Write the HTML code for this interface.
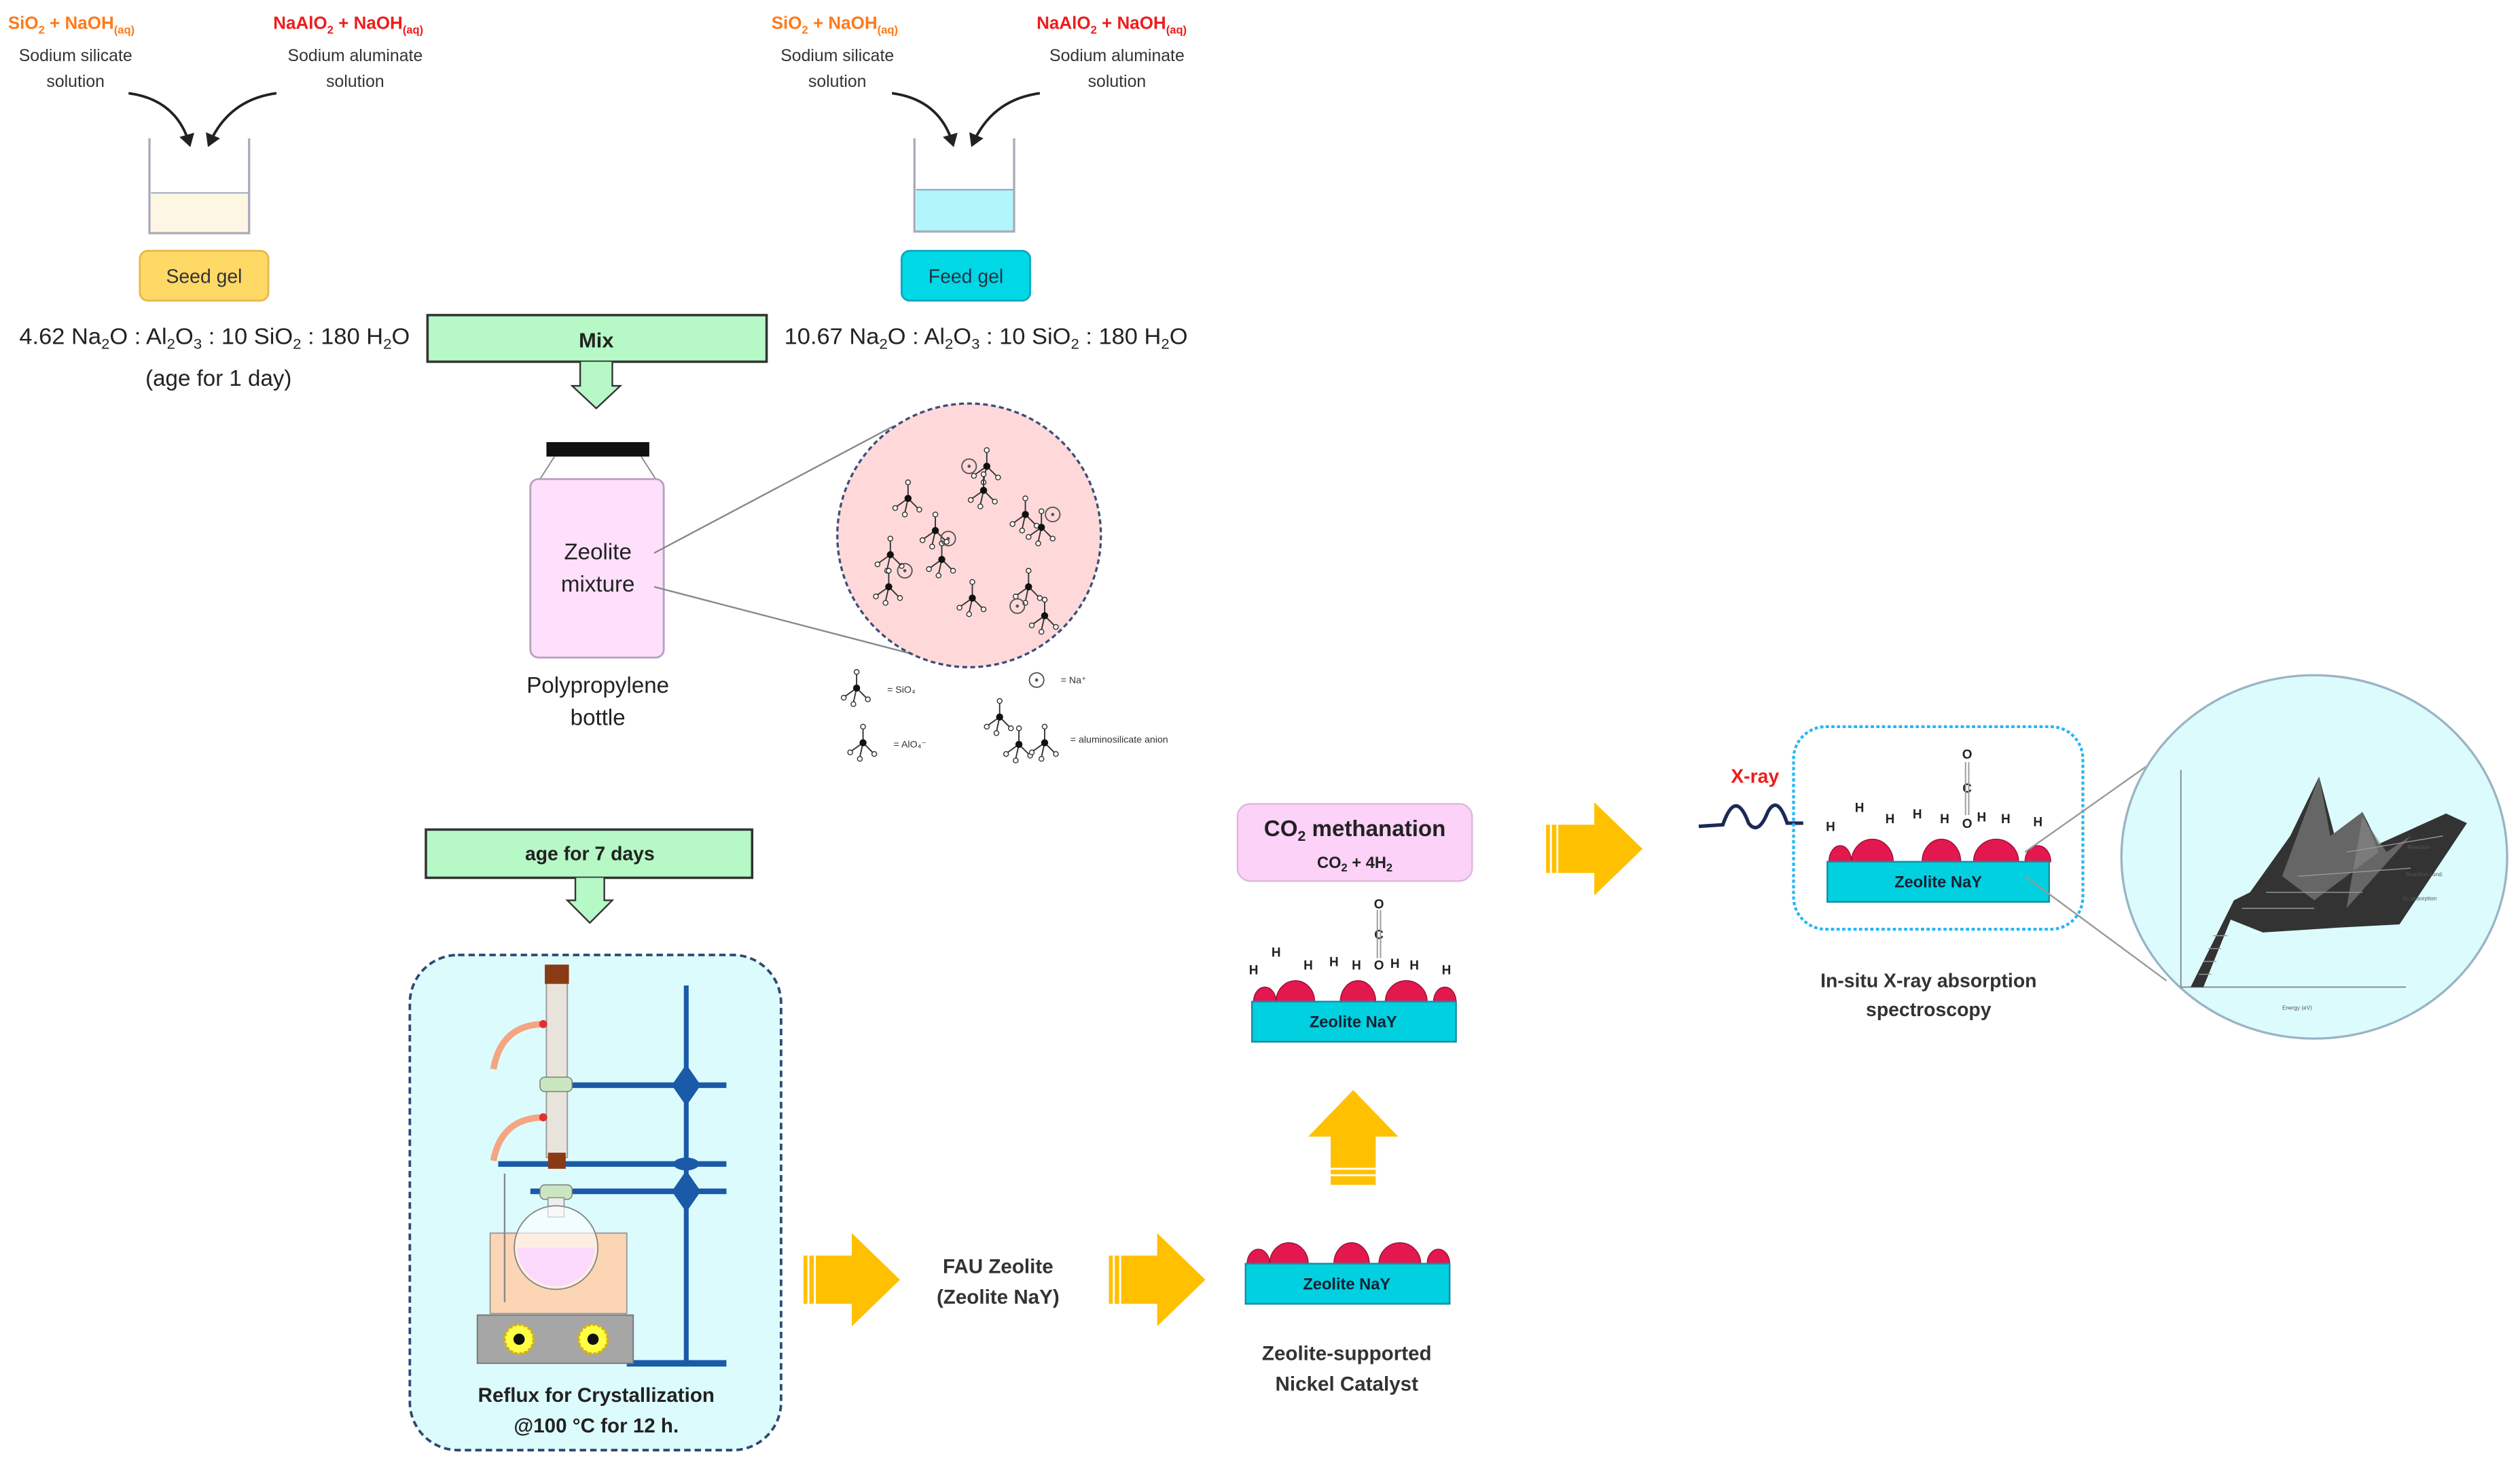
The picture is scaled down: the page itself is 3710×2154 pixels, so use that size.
<!DOCTYPE html>
<html><head><meta charset="utf-8"><style>
html,body{margin:0;padding:0;background:#fff;}
svg{display:block;}
text{font-family:"Liberation Sans",sans-serif;}
</style></head><body>
<svg width="3710" height="2154" viewBox="0 0 1568 910" preserveAspectRatio="none" xmlns="http://www.w3.org/2000/svg">
<defs>
<marker id="ah" markerWidth="6" markerHeight="6" refX="4" refY="3" orient="auto"><path d="M0,0 L5,3 L0,6 z" fill="#222"/></marker>
<g id="tet"><line x1="0" y1="0" x2="0" y2="-9" stroke="#333" stroke-width="0.8"/><line x1="0" y1="0" x2="-7" y2="5" stroke="#333" stroke-width="0.8"/><line x1="0" y1="0" x2="6" y2="6" stroke="#333" stroke-width="0.8"/><line x1="0" y1="0" x2="-2" y2="9" stroke="#333" stroke-width="0.8"/><circle r="2.2" fill="#111"/><circle cy="-10" r="1.5" fill="#fff" stroke="#333" stroke-width="0.6"/><circle cx="-8" cy="6" r="1.5" fill="#fff" stroke="#333" stroke-width="0.6"/><circle cx="7" cy="7" r="1.5" fill="#fff" stroke="#333" stroke-width="0.6"/><circle cx="-2" cy="10" r="1.5" fill="#fff" stroke="#333" stroke-width="0.6"/></g>
<g id="na"><circle r="4.5" fill="none" stroke="#555" stroke-width="0.8"/><circle r="1" fill="#555"/></g>
<g id="yarrow"><path d="M0,14 L30,14 L30,0 L60,29 L30,58 L30,44 L0,44 z" fill="#ffc000"/><line x1="3" y1="14" x2="3" y2="44" stroke="#fff" stroke-width="1.2"/><line x1="7" y1="14" x2="7" y2="44" stroke="#fff" stroke-width="1.2"/></g>
</defs>

<text x="5" y="18" font-size="11" font-weight="bold" fill="#ff7a1a">SiO<tspan font-size="7" dy="3">2</tspan><tspan dy="-3"> + NaOH</tspan><tspan font-size="7" dy="3">(aq)</tspan></text>
<text x="170" y="18" font-size="11" font-weight="bold" fill="#ee1c1c">NaAlO<tspan font-size="7" dy="3">2</tspan><tspan dy="-3"> + NaOH</tspan><tspan font-size="7" dy="3">(aq)</tspan></text>
<text x="47" y="38" font-size="10.5" fill="#333" text-anchor="middle">Sodium silicate</text>
<text x="47" y="54" font-size="10.5" fill="#333" text-anchor="middle">solution</text>
<text x="221" y="38" font-size="10.5" fill="#333" text-anchor="middle">Sodium aluminate</text>
<text x="221" y="54" font-size="10.5" fill="#333" text-anchor="middle">solution</text>
<path d="M80,58 Q110,62 118,90" fill="none" stroke="#222" stroke-width="1.6" marker-end="url(#ah)"/>
<path d="M172,58 Q142,62 130,90" fill="none" stroke="#222" stroke-width="1.6" marker-end="url(#ah)"/>
<rect x="94" y="120" width="61" height="25" fill="#fdf6e2"/>
<line x1="94" y1="120" x2="155" y2="120" stroke="#9ab" stroke-width="0.8"/>
<path d="M93,86 L93,145 L155,145 L155,86" fill="none" stroke="#aab" stroke-width="1.4"/>
<rect x="87" y="156" width="80" height="31" rx="5" fill="#ffd966" stroke="#e8b84a" stroke-width="1.2"/>
<text x="127" y="176" font-size="12" fill="#333" text-anchor="middle">Seed gel</text>
<text x="12" y="214" font-size="14" fill="#222" textLength="243" lengthAdjust="spacingAndGlyphs">4.62 Na<tspan font-size="9" dy="3">2</tspan><tspan dy="-3">O : Al</tspan><tspan font-size="9" dy="3">2</tspan><tspan dy="-3">O</tspan><tspan font-size="9" dy="3">3</tspan><tspan dy="-3"> : 10 SiO</tspan><tspan font-size="9" dy="3">2</tspan><tspan dy="-3"> : 180 H</tspan><tspan font-size="9" dy="3">2</tspan><tspan dy="-3">O</tspan></text>
<text x="136" y="240" font-size="14" fill="#222" text-anchor="middle">(age for 1 day)</text>

<text x="480" y="18" font-size="11" font-weight="bold" fill="#ff7a1a">SiO<tspan font-size="7" dy="3">2</tspan><tspan dy="-3"> + NaOH</tspan><tspan font-size="7" dy="3">(aq)</tspan></text>
<text x="645" y="18" font-size="11" font-weight="bold" fill="#ee1c1c">NaAlO<tspan font-size="7" dy="3">2</tspan><tspan dy="-3"> + NaOH</tspan><tspan font-size="7" dy="3">(aq)</tspan></text>
<text x="521" y="38" font-size="10.5" fill="#333" text-anchor="middle">Sodium silicate</text>
<text x="521" y="54" font-size="10.5" fill="#333" text-anchor="middle">solution</text>
<text x="695" y="38" font-size="10.5" fill="#333" text-anchor="middle">Sodium aluminate</text>
<text x="695" y="54" font-size="10.5" fill="#333" text-anchor="middle">solution</text>
<path d="M555,58 Q585,62 593,90" fill="none" stroke="#222" stroke-width="1.6" marker-end="url(#ah)"/>
<path d="M647,58 Q617,62 605,90" fill="none" stroke="#222" stroke-width="1.6" marker-end="url(#ah)"/>
<rect x="570" y="118" width="61" height="26" fill="#b0f6fa"/>
<line x1="570" y1="118" x2="631" y2="118" stroke="#89b" stroke-width="0.8"/>
<path d="M569,86 L569,144 L631,144 L631,86" fill="none" stroke="#aab" stroke-width="1.4"/>
<rect x="561" y="156" width="80" height="31" rx="5" fill="#00d8e6" stroke="#10a8c0" stroke-width="1.2"/>
<text x="601" y="176" font-size="12" fill="#234" text-anchor="middle">Feed gel</text>
<text x="488" y="214" font-size="14" fill="#222" textLength="251" lengthAdjust="spacingAndGlyphs">10.67 Na<tspan font-size="9" dy="3">2</tspan><tspan dy="-3">O : Al</tspan><tspan font-size="9" dy="3">2</tspan><tspan dy="-3">O</tspan><tspan font-size="9" dy="3">3</tspan><tspan dy="-3"> : 10 SiO</tspan><tspan font-size="9" dy="3">2</tspan><tspan dy="-3"> : 180 H</tspan><tspan font-size="9" dy="3">2</tspan><tspan dy="-3">O</tspan></text>

<rect x="266" y="196" width="211" height="29" fill="#b6f8c6" stroke="#333" stroke-width="1.5"/>
<text x="371" y="216" font-size="13" font-weight="bold" fill="#222" text-anchor="middle">Mix</text>
<path d="M361,225 L361,240 L356,240 L371,254 L386,240 L381,240 L381,225" fill="#b6f8c6" stroke="#333" stroke-width="1"/>

<rect x="340" y="275" width="64" height="9" fill="#111"/>
<path d="M345,284 L336,298 M399,284 L408,298" stroke="#888" stroke-width="0.8"/>
<rect x="330" y="298" width="83" height="111" rx="5" fill="#ffe0fc" stroke="#b9a0c0" stroke-width="1.2"/>
<text x="372" y="348" font-size="14" fill="#222" text-anchor="middle">Zeolite</text>
<text x="372" y="368" font-size="14" fill="#222" text-anchor="middle">mixture</text>
<text x="372" y="431" font-size="14" fill="#222" text-anchor="middle">Polypropylene</text>
<text x="372" y="451" font-size="14" fill="#222" text-anchor="middle">bottle</text>
<line x1="407" y1="344" x2="556" y2="265" stroke="#888" stroke-width="1"/>
<line x1="407" y1="365" x2="580" y2="410" stroke="#888" stroke-width="1"/>
<circle cx="603" cy="333" r="82" fill="#ffd9d9" stroke="#3b4f7a" stroke-width="1.4" stroke-dasharray="3,2"/>
<use href="#tet" x="614" y="290"/><use href="#tet" x="612" y="305"/><use href="#tet" x="582" y="330"/><use href="#tet" x="638" y="320"/><use href="#tet" x="648" y="328"/><use href="#tet" x="554" y="345"/><use href="#tet" x="586" y="348"/><use href="#tet" x="553" y="365"/><use href="#tet" x="640" y="365"/><use href="#tet" x="650" y="383"/><use href="#tet" x="605" y="372"/><use href="#tet" x="565" y="310"/>
<use href="#na" x="603" y="290"/><use href="#na" x="655" y="320"/><use href="#na" x="590" y="335"/><use href="#na" x="563" y="355"/><use href="#na" x="633" y="377"/>
<use href="#tet" x="533" y="428"/><text x="552" y="431" font-size="6" fill="#333">= SiO₄</text>
<use href="#tet" x="537" y="462"/><text x="556" y="465" font-size="6" fill="#333">= AlO₄⁻</text>
<use href="#na" x="645" y="423"/><text x="660" y="425" font-size="6" fill="#333">= Na⁺</text>
<use href="#tet" x="622" y="446"/><use href="#tet" x="634" y="463"/><use href="#tet" x="650" y="462"/>
<text x="666" y="462" font-size="6" fill="#333">= aluminosilicate anion</text>

<rect x="265" y="516" width="203" height="30" fill="#b6f8c6" stroke="#333" stroke-width="1.5"/>
<text x="367" y="535" font-size="12" font-weight="bold" fill="#222" text-anchor="middle">age for 7 days</text>
<path d="M358,546 L358,560 L353,560 L367,574 L381,560 L376,560 L376,546" fill="#b6f8c6" stroke="#333" stroke-width="1"/>

<rect x="255" y="594" width="231" height="308" rx="30" fill="#dcfbfd" stroke="#2f4a72" stroke-width="1.6" stroke-dasharray="4,2.5"/>
<line x1="427" y1="613" x2="427" y2="848" stroke="#1a5aa8" stroke-width="3"/>
<line x1="390" y1="848" x2="452" y2="848" stroke="#1a5aa8" stroke-width="4"/>
<line x1="340" y1="675" x2="452" y2="675" stroke="#1a5aa8" stroke-width="3.5"/>
<line x1="310" y1="724" x2="452" y2="724" stroke="#1a5aa8" stroke-width="3.5"/>
<line x1="330" y1="741" x2="452" y2="741" stroke="#1a5aa8" stroke-width="3.5"/>
<path d="M427,662 L436,675 L427,688 L418,675 z" fill="#1a5aa8"/>
<path d="M427,728 L436,741 L427,754 L418,741 z" fill="#1a5aa8"/>
<ellipse cx="427" cy="724" rx="8" ry="4" fill="#1a5aa8"/>
<rect x="340" y="604" width="13" height="116" fill="#e8e4dc" stroke="#999" stroke-width="0.8"/>
<rect x="339" y="600" width="15" height="12" fill="#8b3a16"/>
<rect x="341" y="717" width="11" height="10" fill="#8b3a16"/>
<rect x="336" y="670" width="20" height="9" rx="3" fill="#c9e6c0" stroke="#777" stroke-width="0.6"/>
<rect x="336" y="737" width="20" height="9" rx="3" fill="#c9e6c0" stroke="#777" stroke-width="0.6"/>
<path d="M339,637 Q312,637 307,665" fill="none" stroke="#f4a582" stroke-width="4"/>
<path d="M339,695 Q312,695 307,722" fill="none" stroke="#f4a582" stroke-width="4"/>
<circle cx="338" cy="637" r="2.5" fill="#e03030"/><circle cx="338" cy="695" r="2.5" fill="#e03030"/>
<rect x="305" y="767" width="85" height="50" fill="#fcd5b4" stroke="#999" stroke-width="0.8"/>
<rect x="341" y="745" width="10" height="12" fill="#eee" stroke="#888" stroke-width="0.6"/>
<circle cx="346" cy="776" r="26" fill="#fff" fill-opacity="0.6" stroke="#888" stroke-width="0.8"/>
<path d="M322,776 A24,24 0 0 0 370,776 Z" fill="#fbd9fc"/>
<line x1="314" y1="730" x2="314" y2="810" stroke="#888" stroke-width="1"/>
<rect x="297" y="818" width="97" height="30" fill="#a6a6a6" stroke="#777" stroke-width="0.8"/>
<circle cx="323" cy="833" r="9" fill="#ffff44" stroke="#d9b000" stroke-width="1.5" stroke-dasharray="2,1"/><circle cx="323" cy="833" r="3.5" fill="#111"/>
<circle cx="369" cy="833" r="9" fill="#ffff44" stroke="#d9b000" stroke-width="1.5" stroke-dasharray="2,1"/><circle cx="369" cy="833" r="3.5" fill="#111"/>
<text x="371" y="872" font-size="12.5" font-weight="bold" fill="#222" text-anchor="middle">Reflux for Crystallization</text>
<text x="371" y="891" font-size="12.5" font-weight="bold" fill="#222" text-anchor="middle">@100 °C for 12 h.</text>

<use href="#yarrow" x="500" y="767"/>
<text x="621" y="792" font-size="12.5" font-weight="bold" fill="#333" text-anchor="middle">FAU Zeolite</text>
<text x="621" y="811" font-size="12.5" font-weight="bold" fill="#333" text-anchor="middle">(Zeolite NaY)</text>
<use href="#yarrow" x="690" y="767"/>

<g fill="#e3184f" stroke="#9a1036" stroke-width="0.6">
<path d="M776,786 A7,9 0 0 1 790,786 z"/><path d="M790,786 A12,13 0 0 1 814,786 z"/><path d="M830,786 A11,13 0 0 1 852,786 z"/><path d="M858,786 A13,13 0 0 1 884,786 z"/><path d="M888,786 A7,9 0 0 1 902,786 z"/>
</g>
<rect x="775" y="786" width="127" height="25" fill="#00d0e0" stroke="#1a8aa0" stroke-width="1"/>
<text x="838" y="802" font-size="10" font-weight="bold" fill="#123" text-anchor="middle">Zeolite NaY</text>
<text x="838" y="846" font-size="12.5" font-weight="bold" fill="#333" text-anchor="middle">Zeolite-supported</text>
<text x="838" y="865" font-size="12.5" font-weight="bold" fill="#333" text-anchor="middle">Nickel Catalyst</text>

<path d="M828,737 L828,707 L814,707 L842,678 L870,707 L856,707 L856,737 z" fill="#ffc000"/>
<line x1="828" y1="731" x2="856" y2="731" stroke="#fff" stroke-width="1.2"/><line x1="828" y1="727" x2="856" y2="727" stroke="#fff" stroke-width="1.2"/>

<g fill="#e3184f" stroke="#9a1036" stroke-width="0.6">
<path d="M780,623 A7,9 0 0 1 794,623 z"/><path d="M794,623 A12,13 0 0 1 818,623 z"/><path d="M834,623 A11,13 0 0 1 856,623 z"/><path d="M862,623 A13,13 0 0 1 888,623 z"/><path d="M892,623 A7,9 0 0 1 906,623 z"/>
</g>
<rect x="779" y="623" width="127" height="25" fill="#00d0e0" stroke="#1a8aa0" stroke-width="1"/>
<text x="842" y="639" font-size="10" font-weight="bold" fill="#123" text-anchor="middle">Zeolite NaY</text>
<g font-size="8" font-weight="bold" fill="#222" text-anchor="middle">
<text x="780" y="606">H</text><text x="794" y="595">H</text><text x="814" y="603">H</text><text x="830" y="601">H</text><text x="844" y="603">H</text><text x="858" y="603">O</text><text x="868" y="602">H</text><text x="880" y="603">H</text><text x="900" y="606">H</text><text x="858" y="565">O</text><text x="858" y="584">C</text>
</g>
<line x1="857" y1="566" x2="857" y2="596" stroke="#999" stroke-width="0.8"/><line x1="859" y1="566" x2="859" y2="596" stroke="#999" stroke-width="0.8"/>

<rect x="770" y="500" width="146" height="48" rx="8" fill="#fcd2f8" stroke="#ddb6dd" stroke-width="1"/>
<text x="843" y="520" font-size="14" font-weight="bold" fill="#222" text-anchor="middle">CO<tspan font-size="9" dy="3">2</tspan><tspan dy="-3"> methanation</tspan></text>
<text x="843" y="540" font-size="10" font-weight="bold" fill="#222" text-anchor="middle">CO<tspan font-size="7" dy="2">2</tspan><tspan dy="-2"> + 4H</tspan><tspan font-size="7" dy="2">2</tspan></text>

<use href="#yarrow" x="962" y="499"/>

<text x="1092" y="487" font-size="12" font-weight="bold" fill="#ee1c1c" text-anchor="middle">X-ray</text>
<path d="M1057,514 L1072,513 Q1080,490 1088,512 Q1094,520 1100,505 Q1106,494 1112,512 L1122,512" fill="none" stroke="#1a2a55" stroke-width="2.2"/>
<rect x="1116" y="452" width="180" height="126" rx="20" fill="none" stroke="#29b6f6" stroke-width="1.8" stroke-dasharray="2,1.5"/>
<g fill="#e3184f" stroke="#9a1036" stroke-width="0.6">
<path d="M1138,536 A7,10 0 0 1 1152,536 z"/><path d="M1152,536 A13,14 0 0 1 1178,536 z"/><path d="M1196,536 A12,14 0 0 1 1220,536 z"/><path d="M1228,536 A14,14 0 0 1 1256,536 z"/><path d="M1260,536 A8,10 0 0 1 1276,536 z"/>
</g>
<rect x="1137" y="536" width="138" height="25" fill="#00d0e0" stroke="#1a8aa0" stroke-width="1"/>
<text x="1206" y="552" font-size="10" font-weight="bold" fill="#123" text-anchor="middle">Zeolite NaY</text>
<g font-size="8" font-weight="bold" fill="#222" text-anchor="middle">
<text x="1139" y="517">H</text><text x="1157" y="505">H</text><text x="1176" y="512">H</text><text x="1193" y="509">H</text><text x="1210" y="512">H</text><text x="1224" y="515">O</text><text x="1233" y="511">H</text><text x="1248" y="512">H</text><text x="1268" y="514">H</text><text x="1224" y="472">O</text><text x="1224" y="493">C</text>
</g>
<line x1="1223" y1="474" x2="1223" y2="507" stroke="#999" stroke-width="0.8"/><line x1="1225" y1="474" x2="1225" y2="507" stroke="#999" stroke-width="0.8"/>
<text x="1200" y="614" font-size="12" font-weight="bold" fill="#333" text-anchor="middle">In-situ X-ray absorption</text>
<text x="1200" y="632" font-size="12" font-weight="bold" fill="#333" text-anchor="middle">spectroscopy</text>

<line x1="1260" y1="530" x2="1345" y2="470" stroke="#999" stroke-width="1"/>
<line x1="1260" y1="545" x2="1348" y2="610" stroke="#999" stroke-width="1"/>
<ellipse cx="1440" cy="533" rx="120" ry="113" fill="#dcfbfd" stroke="#9ab4c4" stroke-width="1.4"/>
<line x1="1357" y1="479" x2="1357" y2="614" stroke="#888" stroke-width="0.8"/>
<line x1="1357" y1="614" x2="1497" y2="614" stroke="#888" stroke-width="0.8"/>
<path d="M1363,614 L1371,614 L1388,572 L1408,580 L1455,577 L1493,575 L1535,512 L1522,506 L1480,525 L1470,505 L1454,525 L1443,483 L1425,520 L1400,555 L1390,560 z" fill="#333"/>
<path d="M1443,483 L1450,520 L1470,505 L1480,530 L1440,560 L1420,545 z" fill="#666"/>
<path d="M1470,508 L1485,530 L1500,520 L1460,565 z" fill="#888" opacity="0.6"/>
<g stroke="#999" stroke-width="0.6">
<line x1="1368" y1="606" x2="1376" y2="606"/><line x1="1371" y1="598" x2="1379" y2="598"/><line x1="1374" y1="590" x2="1382" y2="590"/><line x1="1377" y1="582" x2="1386" y2="582"/><line x1="1395" y1="565" x2="1440" y2="565"/><line x1="1410" y1="555" x2="1470" y2="555"/><line x1="1430" y1="545" x2="1500" y2="540"/><line x1="1460" y1="530" x2="1520" y2="520"/>
</g>
<text x="1498" y="528" font-size="3.5" fill="#555">Reaction</text>
<text x="1497" y="545" font-size="3.5" fill="#555">Reaction cond.</text>
<text x="1495" y="560" font-size="3.5" fill="#555">H₂ adsorption</text>
<text x="1420" y="628" font-size="3.5" fill="#555">Energy (eV)</text>
</svg>
</body></html>
